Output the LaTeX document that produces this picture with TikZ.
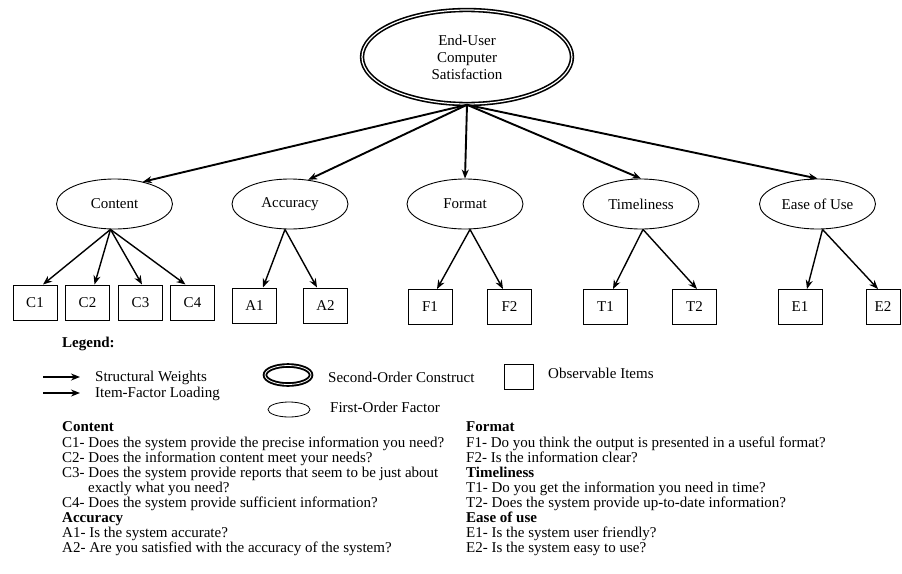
\documentclass[tikz,border=0pt]{standalone}
\usepackage{fontspec}
\setmainfont{Liberation Serif}
\usetikzlibrary{shapes.geometric,arrows.meta}
\begin{document}
\begin{tikzpicture}[x=1pt,y=-1pt,
  font=\fontsize{15}{17}\selectfont,
  second/.style={ellipse,draw,double,line width=1.6pt,double distance=1.2pt,minimum width=210pt,minimum height=94pt,inner sep=0pt,align=center},
  factor/.style={ellipse,draw,line width=0.9pt,minimum width=116pt,minimum height=50pt,inner sep=0pt},
  item/.style={draw,line width=1pt,minimum width=44pt,minimum height=35pt,inner sep=0pt},
  sw/.style={line width=1.9pt,-{Stealth[length=9pt,width=7pt]}},
  ifl/.style={line width=1.4pt,-{Stealth[length=9pt,width=7pt]}},
  txt/.style={anchor=base west,inner sep=0pt},
  hd/.style={txt,font=\fontsize{15}{17}\selectfont\bfseries},
]
\useasboundingbox (0,0) rectangle (902,573);
\fill[white] (0,0) rectangle (902,573);

% second-order construct
\node[second] (top) at (467,57) {End-User\\Computer\\Satisfaction};

% first-order factors
\node[factor] (content)  at (114.5,204) {Content};
\node[factor] (accuracy) at (290,204)   {Accuracy};
\node[factor] (format)   at (465,204)   {Format};
\node[factor] (time)     at (641,204)   {Timeliness};
\node[factor] (ease)     at (817.5,204) {Ease of Use};

% items
\node[item] (c1) at (35,302.5)  {C1};
\node[item] (c2) at (87.5,302.5) {C2};
\node[item] (c3) at (140.5,302.5) {C3};
\node[item] (c4) at (192.5,302.5) {C4};
\node[item] (a1) at (254.5,305.5) {A1};
\node[item] (a2) at (325.5,305.5) {A2};
\node[item] (f1) at (430,307) {F1};
\node[item] (f2) at (509.5,307) {F2};
\node[item] (t1) at (605.5,307) {T1};
\node[item] (t2) at (694.5,307) {T2};
\node[item] (e1) at (800,307) {E1};
\node[item,minimum width=34pt] (e2) at (883,307) {E2};

% structural weights
\draw[sw] (top.south) -- (content.38);
\draw[sw] (top.south) -- (accuracy.53);
\draw[sw] (top.south) -- (format.north);
\draw[sw] (top.south) -- (time.north);
\draw[sw] (top.south) -- (ease.north);

% item-factor loadings
\draw[ifl] ([xshift=-4pt]content.south) -- ([xshift=8pt]c1.north);
\draw[ifl] ([xshift=-4pt]content.south) -- ([xshift=7pt]c2.north);
\draw[ifl] ([xshift=-4pt]content.south) -- ([xshift=1.5pt]c3.north);
\draw[ifl] ([xshift=-4pt]content.south) -- ([xshift=-7pt]c4.north);
\draw[ifl] ([xshift=-5pt]accuracy.south) -- ([xshift=8.5pt]a1.north);
\draw[ifl] ([xshift=-5pt]accuracy.south) -- ([xshift=-8.5pt]a2.north);
\draw[ifl] ([xshift=5pt]format.south) -- ([xshift=7pt]f1.north);
\draw[ifl] ([xshift=5pt]format.south) -- ([xshift=-6.5pt]f2.north);
\draw[ifl] ([xshift=2pt]time.south) -- ([xshift=7.5pt]t1.north);
\draw[ifl] ([xshift=2pt]time.south) -- ([xshift=2.5pt]t2.north);
\draw[ifl] ([xshift=5pt]ease.south) -- ([xshift=7pt]e1.north);
\draw[ifl] ([xshift=5pt]ease.south) -- ([xshift=-5pt]e2.north);

% legend
\node[hd] (leg) at (62,347) {Legend:};
\coordinate (la1) at (43,377);
\coordinate (lb1) at (80,377);
\draw[sw] (la1) -- (lb1);
\node[txt] (lt1) at (95,381) {Structural Weights};
\coordinate (la2) at (43,393);
\coordinate (lb2) at (80,393);
\draw[ifl] (la2) -- (lb2);
\node[txt] (lt2) at (95,397) {Item-Factor Loading};
\node[ellipse,draw,double,line width=1.9pt,double distance=0.8pt,minimum width=46pt,minimum height=19pt,inner sep=0pt] (lsec) at (288,375) {};
\node[txt] (ltsec) at (328,382) {Second-Order Construct};
\node[ellipse,draw,line width=0.8pt,minimum width=42pt,minimum height=15pt,inner sep=0pt] (lfirst) at (289,409.5) {};
\node[txt] (ltfirst) at (330,412) {First-Order Factor};
\node[draw,line width=1pt,minimum width=29pt,minimum height=25pt,inner sep=0pt] (lsq) at (518.5,376.5) {};
\node[txt] (ltsq) at (548,378) {Observable Items};

% question list, left
\node[hd]  (hc)  at (62,431.5) {Content};
\node[txt] (qc1) at (62,447.5) {C1- Does the system provide the precise information you need?};
\node[txt] (qc2) at (62,462.5) {C2- Does the information content meet your needs?};
\node[txt] (qc3) at (62,477.5) {C3- Does the system provide reports that seem to be just about};
\node[txt] (qc3b) at (88,492.5) {exactly what you need?};
\node[txt] (qc4) at (62,507.5) {C4- Does the system provide sufficient information?};
\node[hd]  (ha)  at (62,522.5) {Accuracy};
\node[txt] (qa1) at (62,537.5) {A1- Is the system accurate?};
\node[txt] (qa2) at (62,552.5) {A2- Are you satisfied with the accuracy of the system?};

% question list, right
\node[hd]  (hf)  at (466,431.5) {Format};
\node[txt] (qf1) at (466,447.5) {F1- Do you think the output is presented in a useful format?};
\node[txt] (qf2) at (466,462.5) {F2- Is the information clear?};
\node[hd]  (ht)  at (466,477.5) {Timeliness};
\node[txt] (qt1) at (466,492.5) {T1- Do you get the information you need in time?};
\node[txt] (qt2) at (466,507.5) {T2- Does the system provide up-to-date information?};
\node[hd]  (he)  at (466,522.5) {Ease of use};
\node[txt] (qe1) at (466,537.5) {E1- Is the system user friendly?};
\node[txt] (qe2) at (466,552.5) {E2- Is the system easy to use?};
\end{tikzpicture}
\end{document}
